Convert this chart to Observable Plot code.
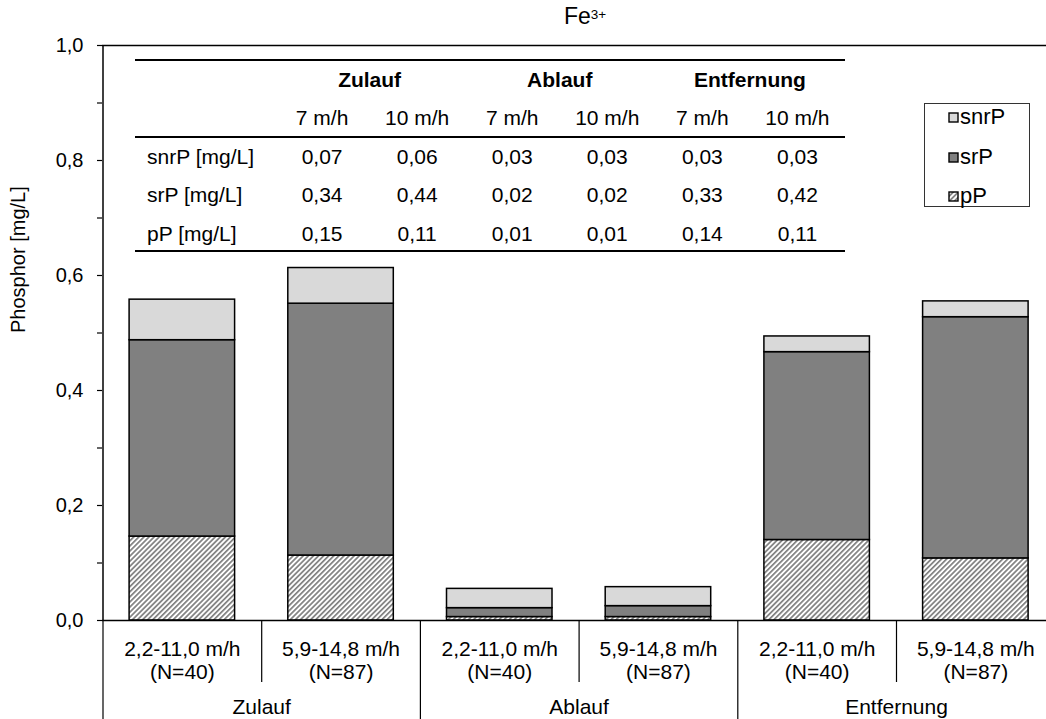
<!DOCTYPE html>
<html>
<head>
<meta charset="utf-8">
<script src="https://cdn.jsdelivr.net/npm/d3@7"></script>
<script src="https://cdn.jsdelivr.net/npm/@observablehq/plot@0.6"></script>
<style>
  html, body { margin: 0; padding: 0; background: #fff; }
  body { font-family: "Liberation Sans", Arial, sans-serif; color: #000; }
  #wrap { position: relative; width: 1046px; height: 719px; overflow: hidden; }
  #title { height: 28px; padding-top: 5px; line-height: 23px; font-size: 23px; text-align: center; padding-left: 124px; box-sizing: border-box; width: 1046px; }
  #title .sup { font-size: 13.5px; position: relative; top: -5px; }
  #table { position: absolute; left: 135px; top: 59px; width: 710px; border-collapse: collapse; font-size: 21px; }
  #table td { padding: 0; text-align: center; white-space: nowrap; }
  #table td.lab { text-align: left; padding-left: 12px; }
  #table tr.top td { border-top: 2px solid #000; height: 38px; font-weight: bold; vertical-align: middle; }
  #table tr.sub td { border-bottom: 2px solid #000; height: 37px; vertical-align: middle; }
  #table tr.row td { vertical-align: top; padding-top: 7px; box-sizing: border-box; }
  #table tr.last td { border-bottom: 2px solid #000; }
  #legend { position: absolute; left: 924px; top: 103px; width: 106px; height: 104px; border: 1px solid #333; box-sizing: border-box; font-size: 22px; }
  #legend .item { position: absolute; left: 23px; height: 24px; line-height: 24px; display: flex; align-items: center; }
  #legend svg { margin-right: 1px; }
</style>
</head>
<body>
<div id="wrap">
  <div id="title">Fe<span class="sup">3+</span></div>
  <div id="chart"></div>
  <table id="table"></table>
  <div id="legend"></div>
</div>
<script>
// ---- data ----
const groups = ["Zulauf", "Ablauf", "Entfernung"];
const rates = ["2,2-11,0 m/h\n(N=40)", "5,9-14,8 m/h\n(N=87)"];
const series = ["pP", "srP", "snrP"];
const pP   = [0.146, 0.113, 0.006, 0.006, 0.140, 0.108];
const srP  = [0.3415, 0.438, 0.0155, 0.019, 0.3267, 0.4195];
const snrP = [0.0705, 0.062, 0.0335, 0.033, 0.0273, 0.0275];
const yTicks = [0, 0.2, 0.4, 0.6, 0.8, 1.0];
const yMinorTicks = [0.1, 0.3, 0.5, 0.7, 0.9];
const yLabel = "Phosphor [mg/L]";

// table shown inside the chart
const tableGroups = ["Zulauf", "Ablauf", "Entfernung"];
const tableRates = ["7 m/h", "10 m/h"];
const tableRowLabels = ["snrP [mg/L]", "srP [mg/L]", "pP [mg/L]"];
const tableSnrP = ["0,07", "0,06", "0,03", "0,03", "0,03", "0,03"];
const tableSrP  = ["0,34", "0,44", "0,02", "0,02", "0,33", "0,42"];
const tablePP   = ["0,15", "0,11", "0,01", "0,01", "0,14", "0,11"];
const legendOrder = ["snrP", "srP", "pP"];

// ---- derived ----
const seriesValues = {pP, srP, snrP};
const bars = [];
groups.forEach((g, gi) => rates.forEach((r, ri) => bars.push({i: gi * rates.length + ri, group: g, rate: r})));
const long = [];
bars.forEach(b => series.forEach(s => long.push({i: b.i, series: s, value: seriesValues[s][b.i]})));
const innerSeps = groups.map((g, gi) => gi * rates.length + 1);
const groupSeps = [...groups.map((g, gi) => gi * rates.length), groups.length * rates.length];
const groupCenters = groups.map((g, gi) => gi * rates.length + rates.length / 2);
const fills = {pP: "url(#hatch)", srP: "#808080", snrP: "#d9d9d9"};
const fmt = d => d3.format(".1f")(d).replace(".", ",");

const plot = Plot.plot({
  width: 1046,
  height: 691,
  marginTop: 17,
  marginBottom: 99,
  marginLeft: 102,
  marginRight: 0,
  style: {fontFamily: "'Liberation Sans', Arial, sans-serif", fontSize: "20px", color: "#000", background: "transparent", overflow: "hidden"},
  x: {type: "linear", domain: [0, bars.length], range: [102.5, 1054.7]},
  y: {domain: [0, 1]},
  color: {domain: series, range: series.map(s => fills[s])},
  marks: [
    Plot.rect(long, Plot.stackY({
      x: "i", x1: d => d.i, x2: d => d.i + 1, y: "value",
      fill: "series", order: series,
      stroke: "#000", strokeWidth: 1.5, insetLeft: 26.6, insetRight: 26.6
    })),
    Plot.ruleX([0], {stroke: "#000", strokeWidth: 1.5}),
    Plot.ruleY([0], {stroke: "#000", strokeWidth: 1.5}),
    Plot.ruleY([1], {stroke: "#000", strokeWidth: 1.5}),
    Plot.axisY({ticks: yTicks, tickSize: 5, tickPadding: 14, tickFormat: fmt, label: null, fontSize: 20, strokeWidth: 1.2}),
    Plot.axisY({ticks: yMinorTicks, tickSize: 5, tickFormat: () => "", label: null, strokeWidth: 1.2}),
    Plot.axisX({ticks: innerSeps, tickSize: 62, tickFormat: () => "", label: null, strokeWidth: 1.2}),
    Plot.axisX({ticks: groupSeps, tickSize: 99, tickFormat: () => "", label: null, strokeWidth: 1.2}),
    Plot.text(bars, {x: d => d.i + 0.5, frameAnchor: "bottom", lineAnchor: "top", dy: 18, text: "rate", fontSize: 21, lineHeight: 1.14}),
    Plot.text(groups, {x: (d, k) => groupCenters[k], frameAnchor: "bottom", lineAnchor: "top", dy: 79, text: d => d, fontSize: 21}),
    Plot.text([yLabel], {frameAnchor: "left", rotate: -90, dx: -84, text: d => d, fontSize: 20})
  ]
});

// hatch pattern for pP
const defs = d3.select(plot).insert("defs", ":first-child");
const pat = defs.append("pattern").attr("id", "hatch").attr("patternUnits", "userSpaceOnUse")
  .attr("width", 3.6).attr("height", 3.6).attr("patternTransform", "rotate(45)");
pat.append("rect").attr("width", 3.6).attr("height", 3.6).attr("fill", "#fff");
pat.append("rect").attr("width", 1.7).attr("height", 3.6).attr("fill", "#808080");
document.getElementById("chart").appendChild(plot);

// table
const tbl = document.getElementById("table");
let html = '<tr class="top"><td class="lab" style="width:126px"></td>' +
  tableGroups.map(g => `<td colspan="${tableRates.length}">${g}</td>`).join("") + "</tr>";
html += '<tr class="sub"><td class="lab"></td>' +
  tableGroups.map(() => tableRates.map(r => `<td style="width:94px">${r}</td>`).join("")).join("") + "</tr>";
const rowVals = [tableSnrP, tableSrP, tablePP];
const rowH = [39, 39, 36];
tableRowLabels.forEach((lab, k) => {
  html += `<tr class="row${k === tableRowLabels.length - 1 ? " last" : ""}" style="height:${rowH[k]}px"><td class="lab">${lab}</td>` +
    rowVals[k].map(v => `<td>${v}</td>`).join("") + "</tr>";
});
tbl.innerHTML = html;

// legend
const leg = document.getElementById("legend");
const legTops = [1, 41, 80];
legendOrder.forEach((s, k) => {
  const it = document.createElement("div");
  it.className = "item";
  it.style.top = legTops[k] + "px";
  it.innerHTML = `<svg width="11" height="11"><rect x="1" y="1" width="9" height="9" fill="${fills[s]}" stroke="#000" stroke-width="1.4"/></svg><span>${s}</span>`;
  leg.appendChild(it);
});
</script>
</body>
</html>
